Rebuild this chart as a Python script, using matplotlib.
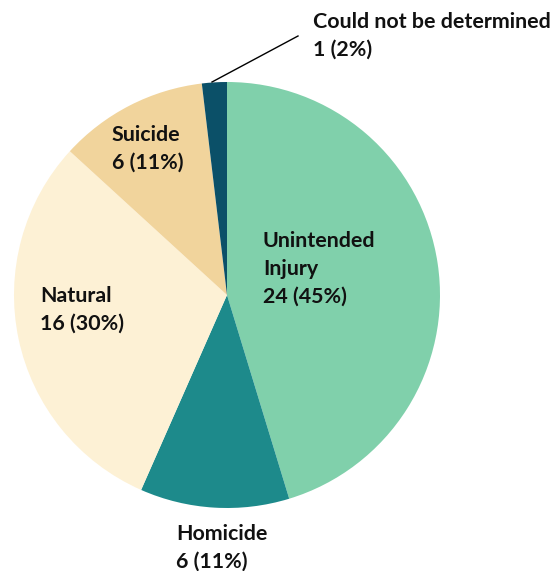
import matplotlib
matplotlib.use("Agg")
import matplotlib.pyplot as plt

categories = ["Unintended\nInjury", "Homicide", "Natural", "Suicide", "Could not be determined"]
counts = [24, 6, 16, 6, 1]
percents = [45, 11, 30, 11, 2]
colors = ["#80d0ab", "#1d8a8b", "#fdf1d5", "#f1d49c", "#0b5068"]

plt.rcParams['font.family'] = ['Lato', 'DejaVu Sans']

W, H = 554, 571
fig = plt.figure(figsize=(W / 100, H / 100), dpi=100)

# pie centre ~ (227, 295) px, radius ~213 px
cx, cy, r = 227, 295, 213
ax = fig.add_axes([(cx - r) / W, (H - cy - r) / H, 2 * r / W, 2 * r / H])
ax.pie(counts, colors=colors, startangle=90, counterclock=False, radius=1,
       wedgeprops=dict(linewidth=0))
ax.set_xlim(-1, 1)
ax.set_ylim(-1, 1)
ax.set_aspect("equal")
ax.axis("off")

labels = [f"{c}\n{n} ({p}%)" for c, n, p in zip(categories, counts, percents)]
label_pos = [(263, 231), (176, 524), (40, 286), (112, 125), (313, 12)]
for lab, (px, py) in zip(labels, label_pos):
    fig.text(px / W, 1 - py / H, lab, ha="left", va="top", fontsize=15.4,
             fontweight="bold", color="#111111", linespacing=1.5)

# leader line for the small slice
fig.add_artist(plt.Line2D([212 / W, 298 / W], [1 - 82 / H, 1 - 36 / H],
                          color="black", linewidth=1))

fig.savefig("out.png", dpi=100)
